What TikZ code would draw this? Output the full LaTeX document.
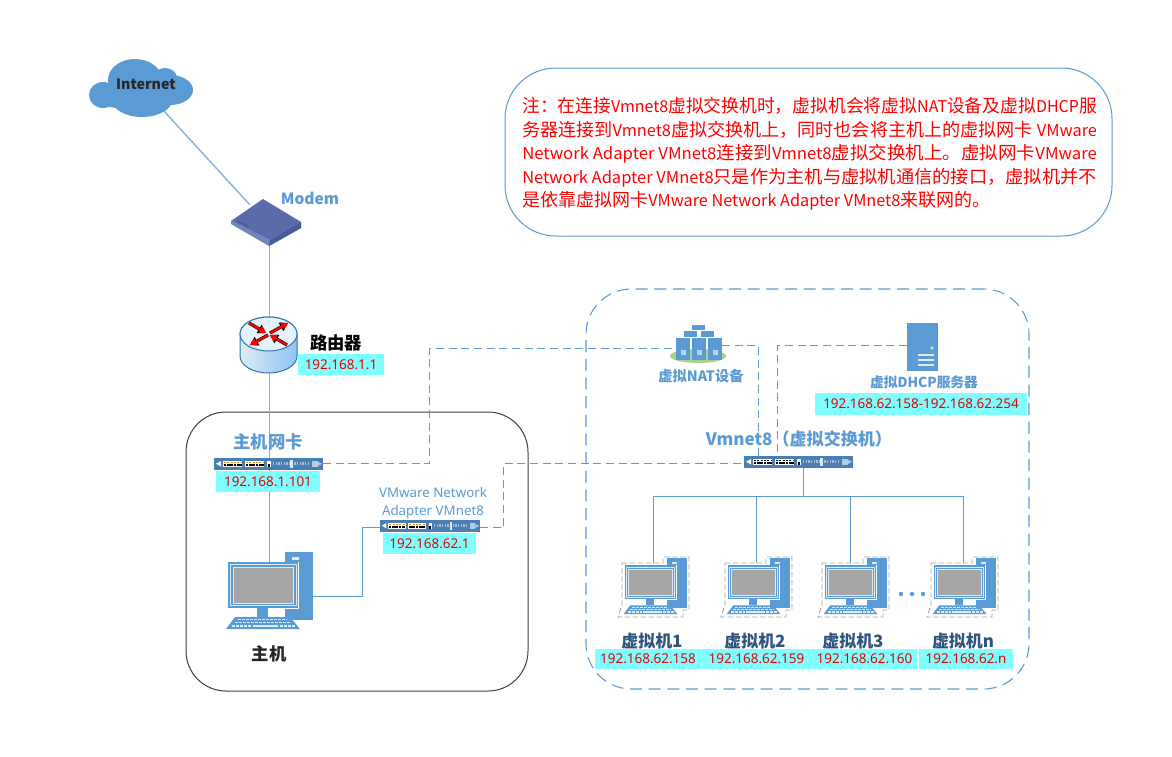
\documentclass[tikz,border=0pt]{standalone}
\usepackage{fontspec}
\usepackage{graphicx}
\setmainfont{Noto Sans CJK SC}
\newfontfamily\ipf{Noto Sans}
\usetikzlibrary{arrows.meta,fit,shapes.geometric,calc}
\definecolor{bl}{HTML}{5B9BD5}
\definecolor{lnk}{HTML}{7FB0E0}
\definecolor{cy}{HTML}{80FFFF}
\definecolor{dk}{HTML}{2F5480}
\definecolor{nicb}{HTML}{4A7FB5}
\definecolor{lite}{HTML}{DDEBF7}
\definecolor{modA}{HTML}{5A6BAA}
\definecolor{modB}{HTML}{7283C0}
\definecolor{modC}{HTML}{4A5A98}
\definecolor{rtR}{HTML}{8FC3F3}
\definecolor{rtE}{HTML}{2E75B6}
\definecolor{rtT}{HTML}{E6F2FC}
\definecolor{grn}{HTML}{A9D18E}
\definecolor{grnb}{HTML}{C5E0B4}
\newcommand{\lat}[1]{{\fontsize{12.2pt}{17.7pt}\selectfont #1}}
\newcommand{\fitline}[1]{\resizebox{431pt}{\height}{#1}}
\tikzset{
  link/.style={draw=lnk,line width=1pt},
  slink/.style={draw=bl,line width=0.75pt},
  dlink/.style={draw=bl,line width=0.95pt,dash pattern=on 6pt off 3.5pt},
  ipbox/.style={fill=cy,inner sep=0pt,text=red!90!black,font=\ipf\fontsize{10.1pt}{11pt}\selectfont},
  hit/.style={inner sep=0pt,outer sep=0pt},
  blab/.style={text=bl,inner sep=0pt,font=\bfseries\fontsize{10pt}{12pt}\selectfont},
  vmlab/.style={text=dk,inner sep=0pt,font=\bfseries\fontsize{12.7pt}{14pt}\selectfont},
  blk/.style={text=black,inner sep=0pt,font=\bfseries\fontsize{13pt}{15pt}\selectfont},
  rarrb/.style={black,line width=2.4pt,-{Triangle[length=6pt,width=7pt]}},
  rarr/.style={red,line width=1.6pt,-{Triangle[length=5pt,width=6pt]}},
}
\newcommand{\compdraw}[3]{%
\begin{scope}[shift={(#1,#2)},scale=#3]
 \fill[bl] (57,0) rectangle (85,68);
 \fill[lite] (64,5) rectangle (71,8);
 \fill[lite] (64,10) rectangle (71,13);
 \fill[bl] (0,10) rectangle (70,56);
 \draw[lite,line width=0.7pt] (2.5,12.5) rectangle (68,53.5);
 \draw[lite,line width=0.6pt,fill=black!35] (5,15) rectangle (65,51);
 \draw[white,line width=0.8pt] (70.5,10)--(70.5,56.5)--(57,56.5);
 \fill[bl] (29,56) rectangle (40,65);
 \fill[bl] (7,65)--(62,65)--(72,77)--(-2,77)--cycle;
 \draw[lite,line width=1.1pt,dash pattern=on 2pt off 1pt] (10,67.5)--(59,67.5);
 \draw[lite,line width=1.1pt,dash pattern=on 2pt off 1pt] (7,70.5)--(62,70.5);
 \fill[lite] (25,72.5) rectangle (50,75);
 \draw[lite,line width=1pt,dash pattern=on 2pt off 1pt] (4,74)--(23,74) (52,74)--(67,74);
\end{scope}}
\newcommand{\vmdraw}[1]{%
 \compdraw{#1}{558}{0.73}
 \draw[black!35,line width=0.7pt,dash pattern=on 4pt off 2pt,shift={(#1,558)}]
   (-3,5)--(38,5)--(38,-1)--(64,-1)--(64,52)--(58,52)--(58,59)--(-7,59)--(-3,47)--cycle;}
\newcommand{\nicdraw}[4]{%
\begin{scope}[shift={(#1,#2)},xscale=#3]
 \fill[nicb] (0,0) rectangle (109,11.5);
 \fill[white] (2,5.7)--(7,3)--(7,8.5)--cycle;
 \fill[white] (9,3) rectangle (28,8.5);
 \draw[#4,line width=1pt,dash pattern=on 1.5pt off 1pt] (10,4.2)--(27,4.2);
 \draw[black,line width=1.4pt,dash pattern=on 2pt off 0.5pt] (9.5,6.8)--(27.5,6.8);
 \fill[white] (31,3) rectangle (50,8.5);
 \draw[#4,line width=1pt,dash pattern=on 1.5pt off 1pt] (32,4.2)--(49,4.2);
 \draw[black,line width=1.4pt,dash pattern=on 2pt off 0.5pt] (31.5,6.8)--(49.5,6.8);
 \fill[white] (53,3) rectangle (57,9);
 \fill[black] (53.5,6) rectangle (55.5,9);
 \draw[lite!60!nicb,line width=2.6pt,dash pattern=on 1pt off 1pt] (59,5.7)--(96,5.7);
 \fill[lite] (76,2) rectangle (79,10);
 \fill[lite!70!nicb] (98,2.5) rectangle (104,9);
 \fill[lite!70!nicb] (104,4)--(108,5.7)--(104,8)--cycle;
\end{scope}}
\begin{document}
\begin{tikzpicture}[x=0.75pt,y=-0.75pt]
\useasboundingbox (0,0) rectangle (1172,757);
\fill[white] (0,0) rectangle (1172,757);

\node[hit,fit={(89,58)(193,117)}] (inet) {};
\node[hit,fit={(231,199)(301,246)}] (modem) {};
\node[hit,fit={(240,317)(297,373)}] (router) {};
\node[hit,fit={(214,458)(323,469.5)}] (nicA) {};
\node[hit,fit={(380,520)(480,531.5)}] (nicB) {};
\node[hit,fit={(744,456)(853,468)}] (sw) {};
\node[hit,fit={(225,552)(313,629)}] (host) {};
\node[hit,fit={(670,325)(726,363)}] (nat) {};
\node[hit,fit={(907,323)(938,371)}] (dhcp) {};

\node[hit,draw=black!75,line width=0.75pt,rounded corners=30pt,fit={(186,412)(528,691)}] (hostbox) {};
\node[hit,draw=bl,line width=0.8pt,dash pattern=on 9pt off 5pt,rounded corners=34pt,fit={(586,289)(1029,689)}] (vmbox) {};
\node[hit,draw=bl,line width=0.75pt,rounded corners=38pt,fit={(505,68)(1112,236)}] (notebox) {};
\node[anchor=west,inner sep=0pt,text=red,align=left,font=\fontsize{13.5pt}{17.7pt}\selectfont] (note) at (522,154)
 {\fitline{注：在连接\lat{Vmnet8}虚拟交换机时，虚拟机会将虚拟\lat{NAT}设备及虚拟\lat{DHCP}服}\\
  \fitline{务器连接到\lat{Vmnet8}虚拟交换机上，同时也会将主机上的虚拟网卡 \lat{VMware}}\\
  \fitline{\lat{Network Adapter VMnet8}连接到\lat{Vmnet8}虚拟交换机上。虚拟网卡\lat{VMware}}\\
  \fitline{\lat{Network Adapter VMnet8}只是作为主机与虚拟机通信的接口，虚拟机并不}\\
  是依靠虚拟网卡\lat{VMware Network Adapter VMnet8}来联网的。};

\coordinate (inetOut) at (163,110);
\coordinate (modemIn) at (250,205);
\draw[link] (inetOut) -- (modemIn);
\coordinate (modOut) at (269.5,246);
\coordinate (rtIn) at (269.5,317);
\coordinate (rtOut) at (269.5,373);
\coordinate (nAin) at (269.5,458);
\coordinate (nAout) at (269.5,469);
\coordinate (hostIn) at (269.5,562);
\draw[link] (modOut) -- (rtIn);
\draw[link] (rtOut) -- (nAin);
\draw[link,draw=bl!85] (nAout) -- (hostIn);
\coordinate (hostOut) at (313,596.5);
\coordinate (nicBin) at (380,527.5);
\coordinate (a1) at (362.5,596.5);
\draw[slink] (hostOut) -- (a1) |- (nicBin);
\coordinate (nAr) at (323,463.5);
\coordinate (d1) at (429.5,463.5);
\coordinate (d2) at (429.5,348.5);
\coordinate (natL) at (676,348.5);
\draw[dlink] (nAr) -- (d1) -- (d2) -- (natL);
\coordinate (natR) at (722,345.5);
\coordinate (swP1) at (758.5,458);
\draw[dlink] (natR) -| (swP1);
\coordinate (dhL) at (907,345.5);
\coordinate (swP2) at (777.5,458);
\draw[dlink] (dhL) -| (swP2);
\coordinate (nb1) at (480,527.5);
\coordinate (nb2) at (503.5,527.5);
\coordinate (nb3) at (503.5,463.5);
\coordinate (swL) at (744,463.5);
\draw[dlink] (nb1) -- (nb2) -- (nb3) -- (swL);
\coordinate (swB) at (803.5,468);
\coordinate (bus) at (803.5,496.5);
\coordinate (t1) at (653.5,563);
\coordinate (t2) at (756.5,563);
\coordinate (t3) at (850.5,563);
\coordinate (t4) at (963.5,563);
\draw[slink] (swB) -- (bus);
\draw[slink] (t1) |- (bus) -| (t4);
\draw[slink] (t2) -- (t2 |- bus);
\draw[slink] (t3) -- (t3 |- bus);

\fill[bl] (103,95) ellipse [x radius=14,y radius=13]
 (135,80) ellipse [x radius=27,y radius=21]
 (165,78) ellipse [x radius=12,y radius=10]
 (170,90) ellipse [x radius=23,y radius=15]
 (142,100) ellipse [x radius=30,y radius=17]
 (118,95) ellipse [x radius=20,y radius=13];
\node[text=black!85,inner sep=0pt,font=\bfseries\fontsize{10.7pt}{12pt}\selectfont] (inetl) at (146,84) {Internet};

\fill[modA] (263,199)--(231,221)--(270,240)--(301,222)--cycle;
\fill[modB] (231,221)--(231,224)--(269,246)--(301,228)--(301,222)--(270,240)--cycle;
\fill[modC] (270,240)--(269,246)--(301,228)--(301,222)--cycle;
\draw[black!70,line width=0.8pt,dash pattern=on 1pt off 0.6pt] (237,221)--(249,227);
\node[blab,font=\bfseries\fontsize{11.6pt}{13pt}\selectfont] (modeml) at (310,198) {Modem};

\path[left color=lite,right color=rtR,draw=rtE,line width=0.75pt]
  (240,334) -- (240,356) arc [start angle=180,end angle=0,x radius=28.5,y radius=17] -- (297,334)
  arc [start angle=0,end angle=-180,x radius=28.5,y radius=17] -- cycle;
\draw[fill=rtT,draw=rtE,line width=0.75pt] (268.5,334) ellipse [x radius=28.5,y radius=17];
\draw[rarrb] (249,323)--(266,333);
\draw[rarrb] (270,333)--(288,323);
\draw[rarrb] (268,335)--(250,345);
\draw[rarrb] (287,345)--(270,335);
\draw[rarr] (249,323)--(266,333);
\draw[rarr] (270,333)--(288,323);
\draw[rarr] (268,335)--(250,345);
\draw[rarr] (287,345)--(270,335);
\node[blk] (routerl) at (336,343) {路由器};
\node[ipbox,fit={(298,354)(384,375)},label={[ipbox,fill=none]center:192.168.1.1}] (ipR) {};

\nicdraw{214}{458}{1}{orange}
\nicdraw{380}{520}{0.917}{orange}
\node[blab,font=\bfseries\fontsize{13pt}{15pt}\selectfont] (hnl) at (268,442) {主机网卡};
\node[ipbox,fit={(216,471)(320,492)},label={[ipbox,fill=none]center:192.168.1.101}] (ipA) {};
\node[text=bl,inner sep=0pt,align=center,font=\ipf\fontsize{10pt}{13.4pt}\selectfont] (vnl) at (433,503) {VMware Network\\Adapter VMnet8};
\node[ipbox,fit={(383,533)(476,554)},label={[ipbox,fill=none]center:192.168.62.1}] (ipB) {};
\compdraw{228}{552}{1}
\node[blk,text=black!85] (hostl) at (269,654) {主机};

\fill[grn] (698,356) ellipse [x radius=28,y radius=7];
\fill[bl] (692,325) rectangle (705,330);
\fill[bl] (684,331) rectangle (697,337);
\fill[bl] (701,331) rectangle (714,337);
\foreach \x in {676,692,708}{
  \fill[bl] (\x,338) rectangle ++(14,22);
  \fill[lite!70!bl] (\x+5,350) rectangle ++(5,5);
}
\node[blab,font=\bfseries\fontsize{10.7pt}{12pt}\selectfont] (natl) at (701,376) {虚拟NAT设备};

\fill[bl] (907,323) rectangle (938,371);
\fill[grnb] (932,348) circle (1.8);
\draw[lite,line width=1pt] (918,355)--(934,355) (918,360)--(934,360) (918,365)--(934,365);
\node[blab,font=\bfseries\fontsize{10.3pt}{12pt}\selectfont] (dhl) at (924,382) {虚拟DHCP服务器};
\node[ipbox,fit={(815,393)(1027,415)},label={[ipbox,fill=none]center:192.168.62.158-192.168.62.254}] (ipD) {};

\nicdraw{744}{456}{1}{black}
\node[blab,font=\bfseries\fontsize{12.8pt}{15pt}\selectfont] (swl) at (799,439) {Vmnet8（虚拟交换机）};

\vmdraw{625}
\vmdraw{728}
\vmdraw{825}
\vmdraw{934}
\fill[bl] (901,594) circle (2.2) (912,594) circle (2.2) (923,594) circle (2.2);
\node[vmlab] (v1) at (652,641) {虚拟机1};
\node[vmlab] (v2) at (755,641) {虚拟机2};
\node[vmlab] (v3) at (853,641) {虚拟机3};
\node[vmlab] (v4) at (963,641) {虚拟机n};
\node[ipbox,fit={(595,649)(701,669)},label={[ipbox,fill=none]center:192.168.62.158}] (i1) {};
\node[ipbox,fit={(702,649)(811,669)},label={[ipbox,fill=none]center:192.168.62.159}] (i2) {};
\node[ipbox,fit={(812,649)(917,669)},label={[ipbox,fill=none]center:192.168.62.160}] (i3) {};
\node[ipbox,fit={(919,649)(1013,669)},label={[ipbox,fill=none]center:192.168.62.n}] (i4) {};
\end{tikzpicture}
\end{document}
